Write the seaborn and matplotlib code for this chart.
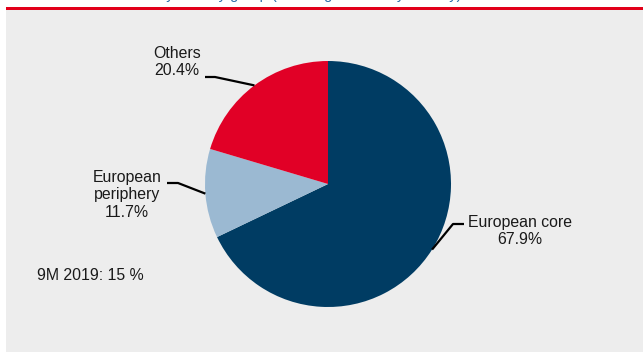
import numpy as np
import matplotlib
matplotlib.use("Agg")
import matplotlib.pyplot as plt
import seaborn as sns

# Portfolio split by region
regions = ["European core", "European\nperiphery", "Others"]
shares = [67.9, 11.7, 20.4]
note_text = "9M 2019: 15 %"
title_text = "Portfolio by country group (sovereign bonds by country)"

sns.set_theme(style="white")
plt.rcParams["font.family"] = ["Liberation Sans", "DejaVu Sans"]

colors = sns.color_palette(["#003c63", "#9bb9d2", "#e10026"])

W, H = 643, 352
fig = plt.figure(figsize=(W / 100, H / 100), dpi=100)
fig.patch.set_facecolor("white")

# grey panel and red rule
fig.patches.append(plt.Rectangle((6 / W, 0), 1, (H - 10) / H, transform=fig.transFigure,
                                 facecolor="#ededed", edgecolor="none", zorder=-2))
fig.patches.append(plt.Rectangle((6 / W, (H - 10) / H), 1, 2.6 / H, transform=fig.transFigure,
                                 facecolor="#e2001a", edgecolor="none", zorder=-1))
fig.text(100 / W, 1 + 1 / H, title_text, color="#2a6ca8", fontsize=10.5,
         ha="left", va="baseline")

ax = fig.add_axes([0, 0, 1, 1])
ax.set_facecolor("none")
ax.set_zorder(3)
cx, cy, r = 328, 184, 123

wedges, _ = ax.pie(shares, colors=colors, startangle=90, counterclock=False,
                   radius=1, center=(0, 0), frame=True,
                   wedgeprops=dict(linewidth=0, edgecolor="none"))
ax.set_xlim(-cx / r, (W - cx) / r)
ax.set_ylim((cy - H) / r, cy / r)
ax.axis("off")

def px(x, y):
    return ((x - cx) / r, (cy - y) / r)

# label layout: (label text centre, elbow start, elbow end) in pixel space
layout = {
    "European core": ((520, 231), (464, 224), (453, 224)),
    "European\nperiphery": ((127, 195), (167, 183), (178, 183)),
    "Others": ((177, 62), (205, 77), (215, 77)),
}

FS = 11.4
for w, name, val in zip(wedges, regions, shares):
    mid = np.deg2rad((w.theta1 + w.theta2) / 2)
    edge = (np.cos(mid), np.sin(mid))
    (tx, ty), a, b = layout[name]
    pa, pb = px(*a), px(*b)
    ax.plot([pa[0], pb[0], edge[0]], [pa[1], pb[1], edge[1]], color="black",
            lw=1.6, solid_capstyle="butt", zorder=5)
    t = px(tx, ty)
    ax.text(t[0], t[1], f"{name}\n{val:.1f}%", ha="center", va="center",
            fontsize=FS, color="#1a1a1a", linespacing=1.22)

n = px(37, 275)
ax.text(n[0], n[1], note_text, ha="left", va="center", fontsize=FS, color="#1a1a1a")

fig.savefig("out.png", dpi=100, facecolor=fig.get_facecolor())
